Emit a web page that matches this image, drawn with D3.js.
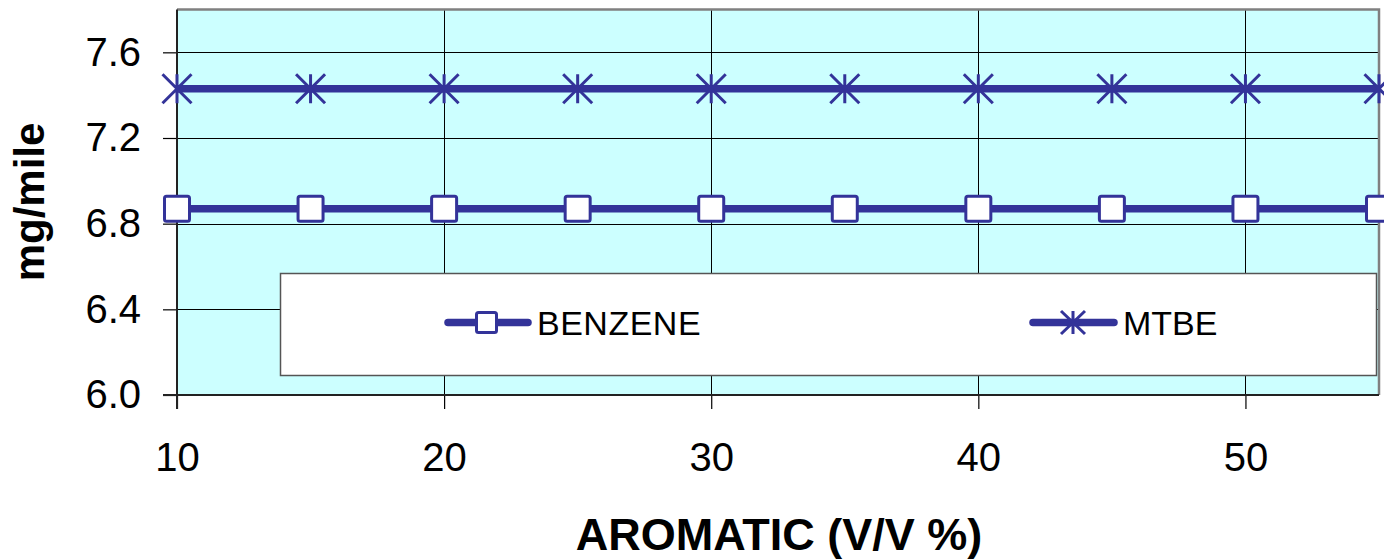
<!DOCTYPE html>
<html>
<head>
<meta charset="utf-8">
<script src="https://cdn.jsdelivr.net/npm/d3@7"></script>
<style>
  html, body { margin: 0; padding: 0; background: #fff; }
  svg { display: block; font-family: Arial, "Liberation Sans", sans-serif; }
</style>
</head>
<body>
<svg id="chart" width="1384" height="559"></svg>
<script>
// ---- data ----
const aromatic = [10, 15, 20, 25, 30, 35, 40, 45, 50, 55];
const benzene  = [6.87, 6.87, 6.87, 6.87, 6.87, 6.87, 6.87, 6.87, 6.87, 6.87];
const mtbe     = [7.43, 7.43, 7.43, 7.43, 7.43, 7.43, 7.43, 7.43, 7.43, 7.43];
const seriesNames = ["BENZENE", "MTBE"];
const xTicks = [10, 20, 30, 40, 50];
const yTicks = [6.0, 6.4, 6.8, 7.2, 7.6];
const xTitle = "AROMATIC (V/V %)";
const yTitle = "mg/mile";

// ---- layout ----
const svg = d3.select("#chart");
const pL = 177, pR = 1379, pT = 9.5, pB = 395;
const color = "#333399";

const x = d3.scaleLinear().domain([10, 55]).range([pL, pR]);
const y = d3.scaleLinear().domain([6.0, 7.8]).range([pB, pT]);

// plot background
svg.append("rect").attr("x", pL).attr("y", pT)
  .attr("width", pR - pL).attr("height", pB - pT)
  .attr("fill", "#CCFFFF");

// gridlines
svg.append("g").selectAll("line").data(yTicks.filter(d => d > 6.0)).join("line")
  .attr("x1", pL).attr("x2", pR)
  .attr("y1", d => Math.round(y(d)) + 0.5).attr("y2", d => Math.round(y(d)) + 0.5)
  .attr("stroke", "#000").attr("stroke-width", 1);
svg.append("g").selectAll("line").data(xTicks.filter(d => d > 10)).join("line")
  .attr("y1", pT).attr("y2", pB)
  .attr("x1", d => Math.round(x(d)) + 0.5).attr("x2", d => Math.round(x(d)) + 0.5)
  .attr("stroke", "#000").attr("stroke-width", 1);

// top/right gray border
svg.append("path")
  .attr("d", `M${pL},${pT} H${pR} V${pB}`)
  .attr("fill", "none").attr("stroke", "#808080").attr("stroke-width", 2.5);

// legend box
const lg = svg.append("g");
lg.append("rect").attr("x", 280.5).attr("y", 273.5).attr("width", 1096).attr("height", 102)
  .attr("fill", "#fff").attr("stroke", "#555").attr("stroke-width", 1.5);

// axes
const yAxis = d3.axisLeft(y).tickValues(yTicks).tickFormat(d3.format(".1f")).tickSize(14).tickPadding(22);
const gy = svg.append("g").attr("transform", `translate(${pL},0)`).call(yAxis);
const xAxis = d3.axisBottom(x).tickValues(xTicks).tickFormat(d3.format("d")).tickSize(14).tickPadding(34);
const gx = svg.append("g").attr("transform", `translate(0,${pB})`).call(xAxis);
[gx, gy].forEach(g => {
  g.selectAll(".domain").remove();
  g.selectAll(".tick line").attr("stroke", "#000").attr("stroke-width", 1.2);
  g.selectAll("text").attr("font-size", 40).attr("fill", "#000")
    .attr("font-family", "Arial, 'Liberation Sans', sans-serif");
});
gx.selectAll("text").attr("dy", "0.71em");
// axis lines
svg.append("line").attr("x1", pL).attr("x2", pL).attr("y1", pT).attr("y2", pB + 14)
  .attr("stroke", "#222").attr("stroke-width", 2);
svg.append("line").attr("x1", pL - 14).attr("x2", pR).attr("y1", pB).attr("y2", pB)
  .attr("stroke", "#222").attr("stroke-width", 2);

// series lines
const line = d3.line().x(d => x(d[0])).y(d => y(d[1]));
const bData = aromatic.map((a, i) => [a, benzene[i]]);
const mData = aromatic.map((a, i) => [a, mtbe[i]]);
[bData, mData].forEach(data => {
  svg.append("path").datum(data).attr("d", line)
    .attr("fill", "none").attr("stroke", color).attr("stroke-width", 7.5)
    .attr("stroke-linecap", "butt");
});

// markers
function square(g, cx, cy, s) {
  g.append("rect").attr("x", cx - s / 2).attr("y", cy - s / 2).attr("width", s).attr("height", s)
    .attr("rx", 2).attr("fill", "#fff").attr("stroke", color).attr("stroke-width", 3);
}
function star(g, cx, cy, w, h) {
  const p = `M${cx},${cy - h / 2}V${cy + h / 2}M${cx - w / 2},${cy - h / 2}L${cx + w / 2},${cy + h / 2}M${cx + w / 2},${cy - h / 2}L${cx - w / 2},${cy + h / 2}`;
  g.append("path").attr("d", p).attr("fill", "none").attr("stroke", color).attr("stroke-width", 3);
}
const mk = svg.append("g");
bData.forEach(d => square(mk, x(d[0]), y(d[1]), 25));
mData.forEach(d => star(mk, x(d[0]), y(d[1]), 29, 29));

// legend entries
const legY = 322.5;
lg.append("line").attr("x1", 448).attr("x2", 528).attr("y1", legY).attr("y2", legY)
  .attr("stroke", color).attr("stroke-width", 7.5).attr("stroke-linecap", "round");
square(lg, 486.5, legY, 20);
lg.append("text").attr("x", 537).attr("y", legY + 12).attr("font-size", 34)
  .attr("letter-spacing", 0.5).text(seriesNames[0]);
lg.append("line").attr("x1", 1033).attr("x2", 1114).attr("y1", legY).attr("y2", legY)
  .attr("stroke", color).attr("stroke-width", 7.5).attr("stroke-linecap", "round");
star(lg, 1073, legY, 24, 23);
lg.append("text").attr("x", 1123).attr("y", legY + 12).attr("font-size", 34).text(seriesNames[1]);

// titles
svg.append("text").attr("x", 779).attr("y", 550).attr("text-anchor", "middle")
  .attr("font-size", 45).attr("font-weight", "bold").text(xTitle);
svg.append("text").attr("transform", "translate(44,202) rotate(-90)").attr("text-anchor", "middle")
  .attr("font-size", 42).attr("font-weight", "bold").text(yTitle);
</script>
</body>
</html>
